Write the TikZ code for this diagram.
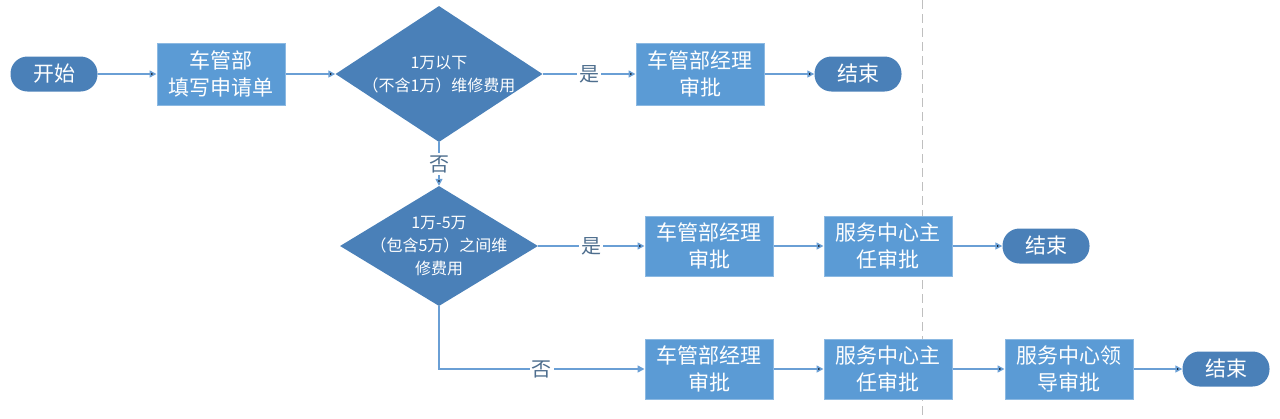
\documentclass[tikz,border=0pt]{standalone}
\usepackage{fontspec}
\setmainfont{Noto Sans CJK SC}
\usetikzlibrary{arrows.meta,shapes.geometric,positioning}
\definecolor{boxblue}{HTML}{5B9BD5}
\definecolor{darkblue}{HTML}{4A80B8}
\definecolor{lineblue}{HTML}{6A9FD5}
\definecolor{labelgray}{HTML}{4E6E8E}

\begin{document}
\begin{tikzpicture}[x=1pt, y=-1pt, ->, >={Triangle[length=7pt, width=7pt]},
  line/.style={draw=lineblue, line width=1.5pt},
  terminal/.style={rectangle, rounded corners=17pt, fill=darkblue, minimum width=87pt, minimum height=35pt, inner sep=0pt, text=white, font=\fontsize{21}{26}\selectfont},
  process/.style={rectangle, fill=boxblue, draw=boxblue!70!white, line width=1pt, minimum width=128pt, minimum height=62pt, inner sep=0pt, text=white, align=center, font=\fontsize{21}{27}\selectfont},
  decision/.style={diamond, fill=darkblue, inner sep=0pt},
  dtext/.style={text=white, align=center, font=\fontsize{16}{23}\selectfont},
  answer/.style={fill=white, text=labelgray, inner sep=2pt, font=\fontsize{20}{24}\selectfont}]
\path[use as bounding box] (0,0) rectangle (1280,418);
\draw[-, gray!50, line width=1pt, dash pattern=on 9pt off 5pt] (922,0) -- (922,418);
\node[terminal] (start) at (54,74) {开始};
\node[process] (apply) at (221,74) {车管部\\填写申请单};
\node[decision, minimum width=207pt, minimum height=136pt] (D1) at (439,74) {};
\node[dtext] at (D1.center) {1万以下\\（不含1万）维修费用};
\node[process] (M1) at (700,74) {车管部经理\\审批};
\node[terminal] (end1) at (858,74) {结束};
\node[decision, minimum width=198pt, minimum height=120pt] (D2) at (439,246) {};
\node[dtext] at (D2.center) {1万-5万\\（包含5万）之间维\\修费用};
\node[process, minimum height=60pt] (M2) at (709,246) {车管部经理\\审批};
\node[process, minimum height=60pt] (S2) at (888,246) {服务中心主\\任审批};
\node[terminal] (end2) at (1046,246) {结束};
\node[process, minimum height=60pt] (M3) at (709,369) {车管部经理\\审批};
\node[process, minimum height=60pt] (S3) at (888,369) {服务中心主\\任审批};
\node[process, minimum height=60pt] (L3) at (1069,369) {服务中心领\\导审批};
\node[terminal] (end3) at (1226,369) {结束};
\path[line] (start) edge (apply);
\path[line] (apply) edge (D1);
\path[line] (D1) edge node[answer] {是} (M1);
\path[line] (M1) edge (end1);
\path[line] (D1) edge node[answer] {否} (D2);
\path[line] (D2) edge node[answer] {是} (M2);
\path[line] (M2) edge (S2);
\path[line] (S2) edge (end2);
\draw[line] (D2.south) |- node[answer, pos=0.75] {否} (M3.west);
\path[line] (M3) edge (S3);
\path[line] (S3) edge (L3);
\path[line] (L3) edge (end3);
\end{tikzpicture}
\end{document}
